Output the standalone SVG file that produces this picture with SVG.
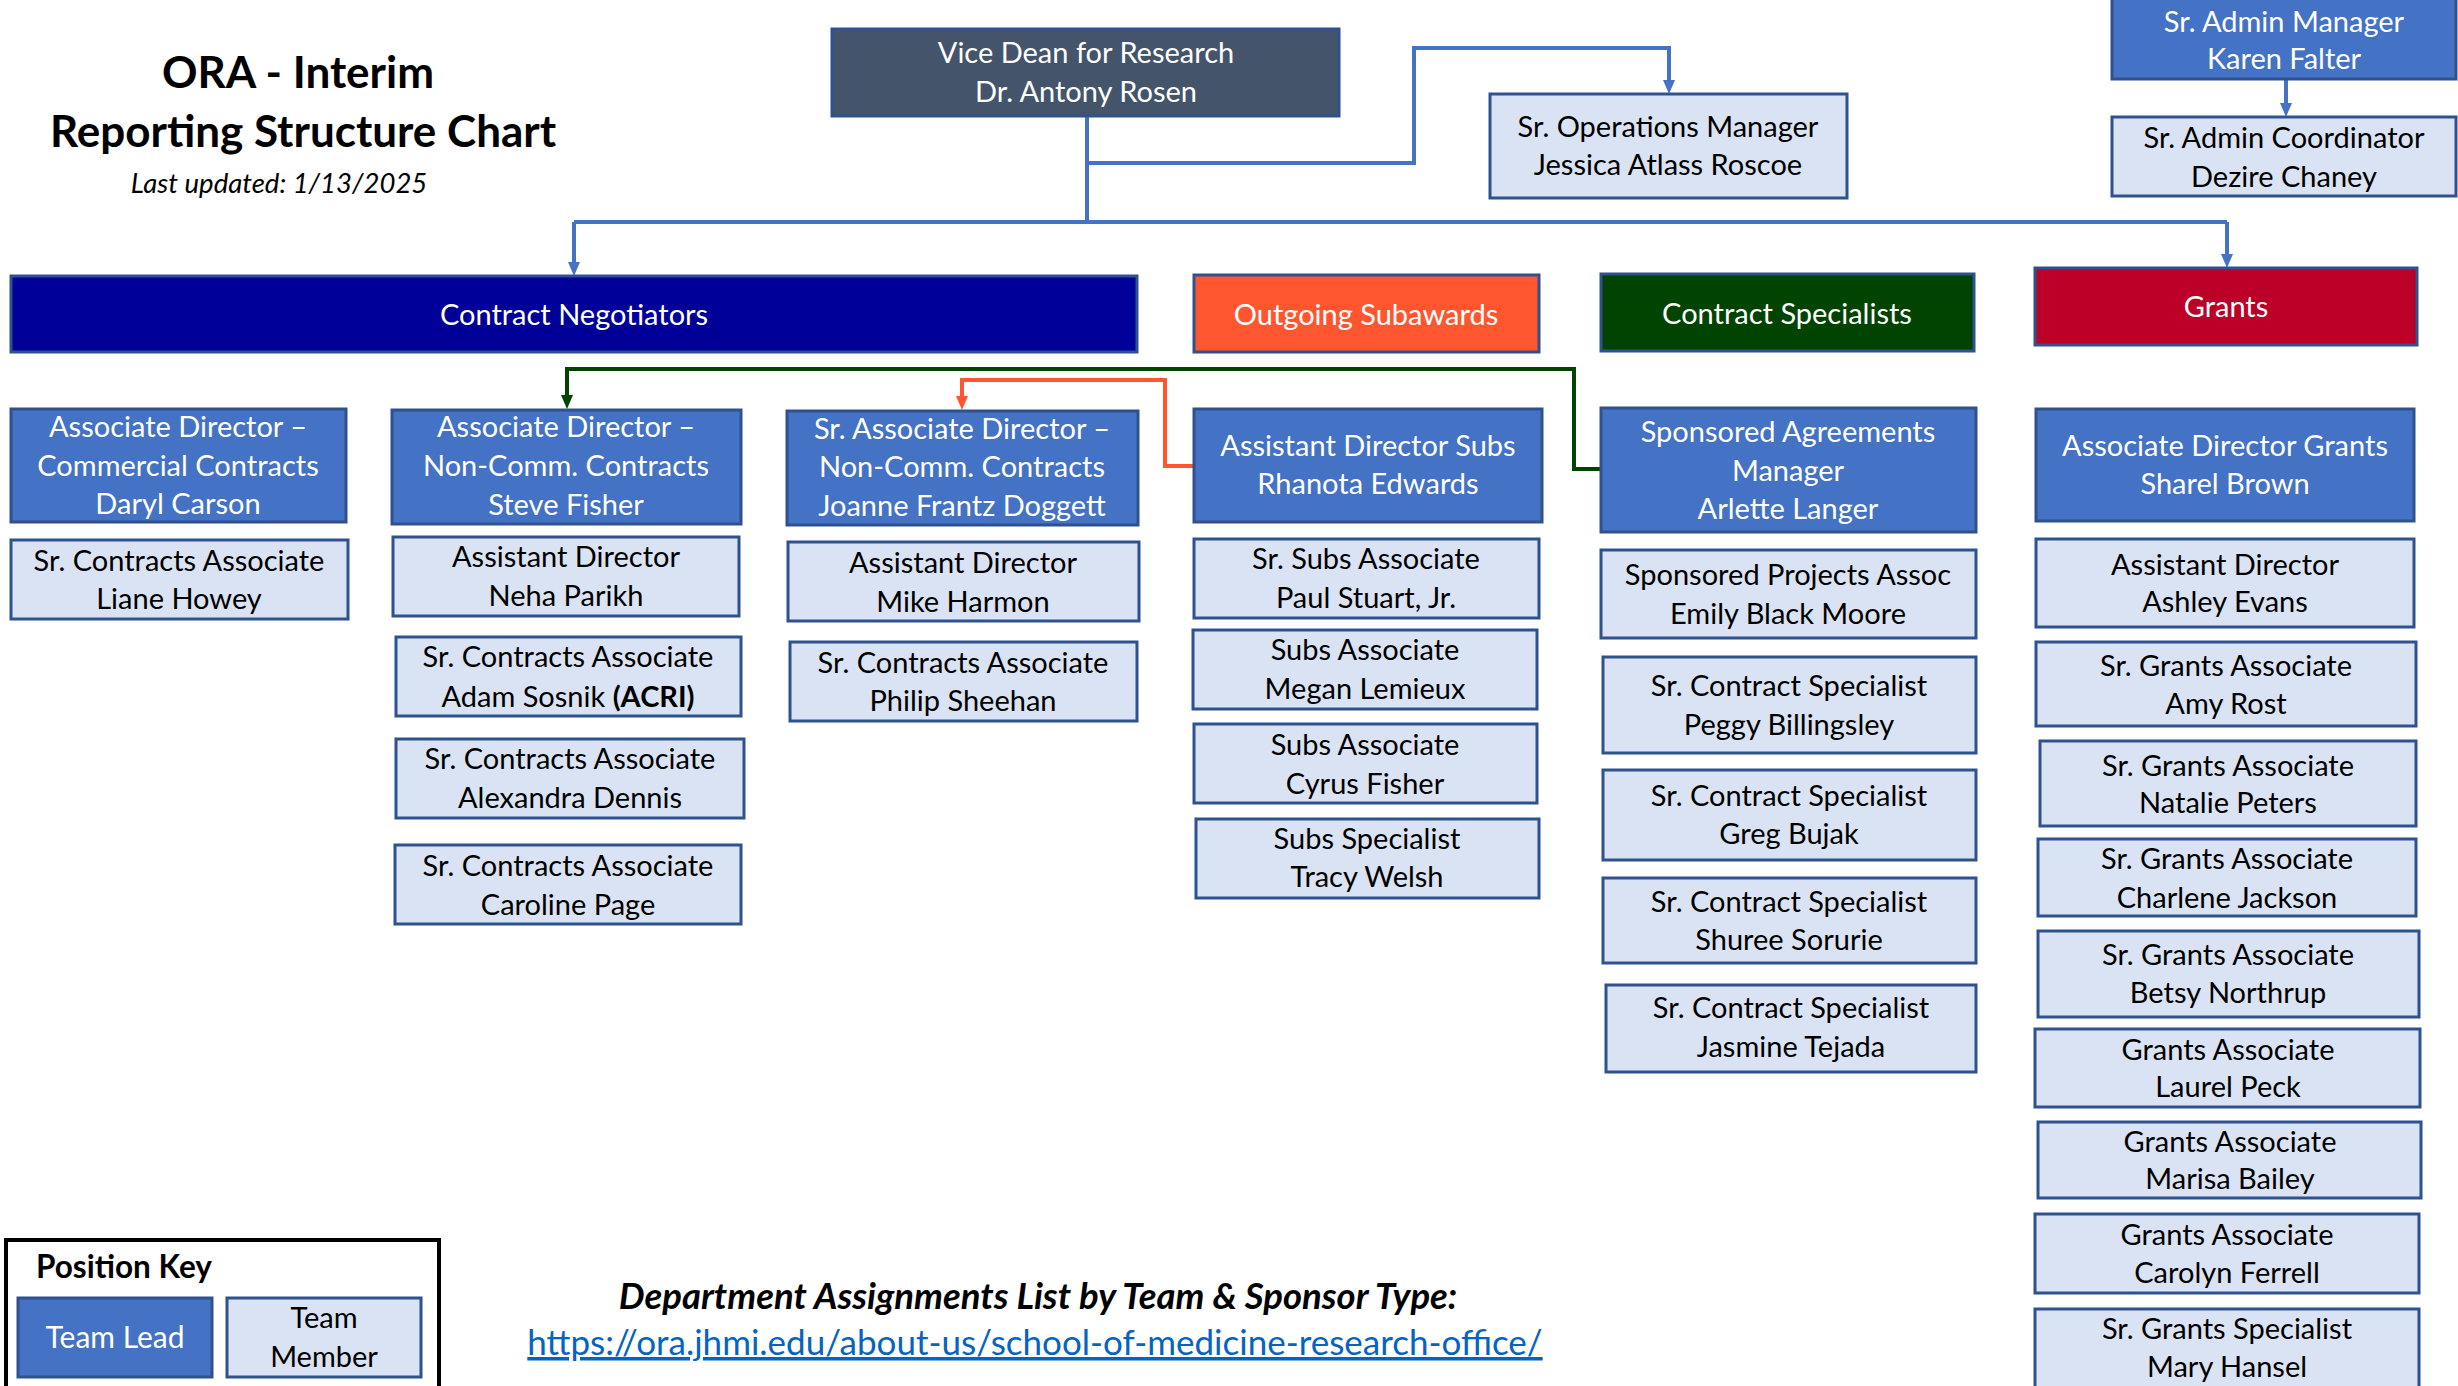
<svg xmlns="http://www.w3.org/2000/svg" width="2458" height="1386" viewBox="0 0 2458 1386">
<style>
text{font-family:Lato,"Liberation Sans",sans-serif;font-size:29px;text-anchor:middle}
.lead{fill:#4472C4;stroke:#2F528F;stroke-width:3}
.mem{fill:#DAE3F3;stroke:#2F528F;stroke-width:3}
.w{fill:#FFFFFF}
.k{fill:#000000}
.cb{fill:none;stroke:#4472C4;stroke-width:4}
.cg{fill:none;stroke:#004400;stroke-width:4}
.co{fill:none;stroke:#FF5630;stroke-width:4}
.hdr{stroke:#2F528F;stroke-width:3}
</style>
<defs>
<marker id="ab" markerUnits="userSpaceOnUse" viewBox="0 0 14 12" markerWidth="14" markerHeight="12" refX="8" refY="6" orient="auto"><path d="M0,0 L14,6 L0,12 z" fill="#4472C4"/></marker>
<marker id="ag" markerUnits="userSpaceOnUse" viewBox="0 0 14 12" markerWidth="14" markerHeight="12" refX="8" refY="6" orient="auto"><path d="M0,0 L14,6 L0,12 z" fill="#004400"/></marker>
<marker id="ao" markerUnits="userSpaceOnUse" viewBox="0 0 14 12" markerWidth="14" markerHeight="12" refX="8" refY="6" orient="auto"><path d="M0,0 L14,6 L0,12 z" fill="#FF5630"/></marker>
</defs>
<rect width="2458" height="1386" fill="#FFFFFF"/>

<g id="title">
<text x="298" y="88" style="font-weight:700;font-size:44px">ORA - Interim</text>
<text x="303" y="147" style="font-weight:700;font-size:44px">Reporting Structure Chart</text>
<text x="279" y="193" style="font-style:italic;font-size:27.5px">Last updated: 1/13/2025</text>
</g>

<g id="connectors">
<path class="cb" d="M1087,116 V222"/>
<path class="cb" d="M1087,163 H1414 V48 H1669 V88" marker-end="url(#ab)"/>
<path class="cb" d="M574,222 H2227"/>
<path class="cb" d="M574,222 V270" marker-end="url(#ab)"/>
<path class="cb" d="M2227,222 V262" marker-end="url(#ab)"/>
<path class="cb" d="M2286,79 V111" marker-end="url(#ab)"/>
<path class="cg" d="M1601,469 H1574 V369 H567 V403" marker-end="url(#ag)"/>
<path class="co" d="M1194,466 H1165 V380 H962 V404" marker-end="url(#ao)"/>
</g>

<g id="vice-dean">
<rect x="832" y="29" width="507" height="87" fill="#44546A" class="hdr"/>
<text class="w" x="1086" y="63">Vice Dean for Research</text>
<text class="w" x="1086" y="102">Dr. Antony Rosen</text>
</g>
<g id="sr-ops-manager">
<rect class="mem" x="1490" y="94" width="357" height="104"/>
<text class="k" x="1668" y="137">Sr. Operations Manager</text>
<text class="k" x="1668" y="175">Jessica Atlass Roscoe</text>
</g>
<g id="sr-admin-manager">
<rect class="lead" x="2112" y="-4" width="344" height="83"/>
<text class="w" x="2284" y="32">Sr. Admin Manager</text>
<text class="w" x="2284" y="69">Karen Falter</text>
</g>
<g id="sr-admin-coordinator">
<rect class="mem" x="2112" y="117" width="344" height="79"/>
<text class="k" x="2284" y="148">Sr. Admin Coordinator</text>
<text class="k" x="2284" y="187">Dezire Chaney</text>
</g>

<g id="contract-negotiators">
<rect x="11" y="276" width="1126" height="76" fill="#000099" class="hdr"/>
<text class="w" x="574" y="325">Contract Negotiators</text>
</g>
<g id="outgoing-subawards">
<rect x="1194" y="275" width="345" height="77" fill="#FF5630" class="hdr"/>
<text class="w" x="1366" y="325">Outgoing Subawards</text>
</g>
<g id="contract-specialists">
<rect x="1601" y="274" width="373" height="77" fill="#004400" class="hdr"/>
<text class="w" x="1787" y="324">Contract Specialists</text>
</g>
<g id="grants">
<rect x="2035" y="268" width="382" height="77" fill="#BC0028" class="hdr"/>
<text class="w" x="2226" y="317">Grants</text>
</g>

<g id="daryl-carson">
<rect class="lead" x="11" y="409" width="335" height="113"/>
<text class="w" x="178" y="437">Associate Director –</text>
<text class="w" x="178" y="476">Commercial Contracts</text>
<text class="w" x="178" y="514">Daryl Carson</text>
</g>
<g id="liane-howey">
<rect class="mem" x="11" y="540" width="337" height="79"/>
<text class="k" x="179" y="571">Sr. Contracts Associate</text>
<text class="k" x="179" y="609">Liane Howey</text>
</g>

<g id="steve-fisher">
<rect class="lead" x="392" y="410" width="349" height="114"/>
<text class="w" x="566" y="437">Associate Director –</text>
<text class="w" x="566" y="476">Non-Comm. Contracts</text>
<text class="w" x="566" y="515">Steve Fisher</text>
</g>
<g id="neha-parikh">
<rect class="mem" x="393" y="537" width="346" height="79"/>
<text class="k" x="566" y="567">Assistant Director</text>
<text class="k" x="566" y="606">Neha Parikh</text>
</g>
<g id="adam-sosnik">
<rect class="mem" x="396" y="637" width="345" height="79"/>
<text class="k" x="568" y="667">Sr. Contracts Associate</text>
<text class="k" x="568" y="707">Adam Sosnik <tspan style="font-weight:700">(ACRI)</tspan></text>
</g>
<g id="alexandra-dennis">
<rect class="mem" x="396" y="739" width="348" height="79"/>
<text class="k" x="570" y="769">Sr. Contracts Associate</text>
<text class="k" x="570" y="808">Alexandra Dennis</text>
</g>
<g id="caroline-page">
<rect class="mem" x="395" y="845" width="346" height="79"/>
<text class="k" x="568" y="876">Sr. Contracts Associate</text>
<text class="k" x="568" y="915">Caroline Page</text>
</g>

<g id="joanne-frantz-doggett">
<rect class="lead" x="787" y="411" width="351" height="114"/>
<text class="w" x="962" y="439">Sr. Associate Director –</text>
<text class="w" x="962" y="477">Non-Comm. Contracts</text>
<text class="w" x="962" y="516">Joanne Frantz Doggett</text>
</g>
<g id="mike-harmon">
<rect class="mem" x="788" y="542" width="351" height="79"/>
<text class="k" x="963" y="573">Assistant Director</text>
<text class="k" x="963" y="612">Mike Harmon</text>
</g>
<g id="philip-sheehan">
<rect class="mem" x="790" y="642" width="347" height="79"/>
<text class="k" x="963" y="673">Sr. Contracts Associate</text>
<text class="k" x="963" y="711">Philip Sheehan</text>
</g>

<g id="rhanota-edwards">
<rect class="lead" x="1194" y="409" width="348" height="113"/>
<text class="w" x="1368" y="456">Assistant Director Subs</text>
<text class="w" x="1368" y="494">Rhanota Edwards</text>
</g>
<g id="paul-stuart">
<rect class="mem" x="1194" y="539" width="345" height="79"/>
<text class="k" x="1366" y="569">Sr. Subs Associate</text>
<text class="k" x="1366" y="608">Paul Stuart, Jr.</text>
</g>
<g id="megan-lemieux">
<rect class="mem" x="1193" y="630" width="344" height="79"/>
<text class="k" x="1365" y="660">Subs Associate</text>
<text class="k" x="1365" y="699">Megan Lemieux</text>
</g>
<g id="cyrus-fisher">
<rect class="mem" x="1194" y="724" width="343" height="79"/>
<text class="k" x="1365" y="755">Subs Associate</text>
<text class="k" x="1365" y="794">Cyrus Fisher</text>
</g>
<g id="tracy-welsh">
<rect class="mem" x="1196" y="819" width="343" height="79"/>
<text class="k" x="1367" y="849">Subs Specialist</text>
<text class="k" x="1367" y="887">Tracy Welsh</text>
</g>

<g id="arlette-langer">
<rect class="lead" x="1601" y="408" width="375" height="124"/>
<text class="w" x="1788" y="442">Sponsored Agreements</text>
<text class="w" x="1788" y="481">Manager</text>
<text class="w" x="1788" y="519">Arlette Langer</text>
</g>
<g id="emily-black-moore">
<rect class="mem" x="1601" y="550" width="375" height="88"/>
<text class="k" x="1788" y="585">Sponsored Projects Assoc</text>
<text class="k" x="1788" y="624">Emily Black Moore</text>
</g>
<g id="peggy-billingsley">
<rect class="mem" x="1603" y="657" width="373" height="96"/>
<text class="k" x="1789" y="696">Sr. Contract Specialist</text>
<text class="k" x="1789" y="735">Peggy Billingsley</text>
</g>
<g id="greg-bujak">
<rect class="mem" x="1603" y="770" width="373" height="90"/>
<text class="k" x="1789" y="806">Sr. Contract Specialist</text>
<text class="k" x="1789" y="844">Greg Bujak</text>
</g>
<g id="shuree-sorurie">
<rect class="mem" x="1603" y="878" width="373" height="85"/>
<text class="k" x="1789" y="912">Sr. Contract Specialist</text>
<text class="k" x="1789" y="950">Shuree Sorurie</text>
</g>
<g id="jasmine-tejada">
<rect class="mem" x="1606" y="985" width="370" height="87"/>
<text class="k" x="1791" y="1018">Sr. Contract Specialist</text>
<text class="k" x="1791" y="1057">Jasmine Tejada</text>
</g>

<g id="sharel-brown">
<rect class="lead" x="2036" y="409" width="378" height="112"/>
<text class="w" x="2225" y="456">Associate Director Grants</text>
<text class="w" x="2225" y="494">Sharel Brown</text>
</g>
<g id="ashley-evans">
<rect class="mem" x="2036" y="539" width="378" height="88"/>
<text class="k" x="2225" y="575">Assistant Director</text>
<text class="k" x="2225" y="612">Ashley Evans</text>
</g>
<g id="amy-rost">
<rect class="mem" x="2036" y="642" width="380" height="84"/>
<text class="k" x="2226" y="676">Sr. Grants Associate</text>
<text class="k" x="2226" y="714">Amy Rost</text>
</g>
<g id="natalie-peters">
<rect class="mem" x="2040" y="741" width="376" height="85"/>
<text class="k" x="2228" y="776">Sr. Grants Associate</text>
<text class="k" x="2228" y="813">Natalie Peters</text>
</g>
<g id="charlene-jackson">
<rect class="mem" x="2038" y="839" width="378" height="77"/>
<text class="k" x="2227" y="869">Sr. Grants Associate</text>
<text class="k" x="2227" y="908">Charlene Jackson</text>
</g>
<g id="betsy-northrup">
<rect class="mem" x="2038" y="931" width="381" height="86"/>
<text class="k" x="2228" y="965">Sr. Grants Associate</text>
<text class="k" x="2228" y="1003">Betsy Northrup</text>
</g>
<g id="laurel-peck">
<rect class="mem" x="2035" y="1029" width="385" height="78"/>
<text class="k" x="2228" y="1060">Grants Associate</text>
<text class="k" x="2228" y="1097">Laurel Peck</text>
</g>
<g id="marisa-bailey">
<rect class="mem" x="2038" y="1122" width="383" height="76"/>
<text class="k" x="2230" y="1152">Grants Associate</text>
<text class="k" x="2230" y="1189">Marisa Bailey</text>
</g>
<g id="carolyn-ferrell">
<rect class="mem" x="2035" y="1214" width="384" height="79"/>
<text class="k" x="2227" y="1245">Grants Associate</text>
<text class="k" x="2227" y="1283">Carolyn Ferrell</text>
</g>
<g id="mary-hansel">
<rect class="mem" x="2035" y="1309" width="384" height="95"/>
<text class="k" x="2227" y="1339">Sr. Grants Specialist</text>
<text class="k" x="2227" y="1377">Mary Hansel</text>
</g>

<g id="position-key">
<rect x="6" y="1240" width="433" height="170" fill="#FFFFFF" stroke="#000000" stroke-width="4"/>
<text class="k" x="36" y="1278" style="text-anchor:start;font-weight:700;font-size:31.5px">Position Key</text>
<rect class="lead" x="18" y="1298" width="194" height="79"/>
<text class="w" x="115" y="1348" style="font-size:30px">Team Lead</text>
<rect class="mem" x="227" y="1298" width="194" height="79"/>
<text class="k" x="324" y="1328">Team</text>
<text class="k" x="324" y="1367">Member</text>
</g>

<g id="assignments">
<text class="k" x="1038" y="1309" style="font-weight:700;font-style:italic;font-size:36.5px">Department Assignments List by Team &amp; Sponsor Type:</text>
<text x="1035" y="1355" style="fill:#0563C1;text-decoration:underline;font-size:35px">https://ora.jhmi.edu/about-us/school-of-medicine-research-office/</text>
</g>
</svg>
